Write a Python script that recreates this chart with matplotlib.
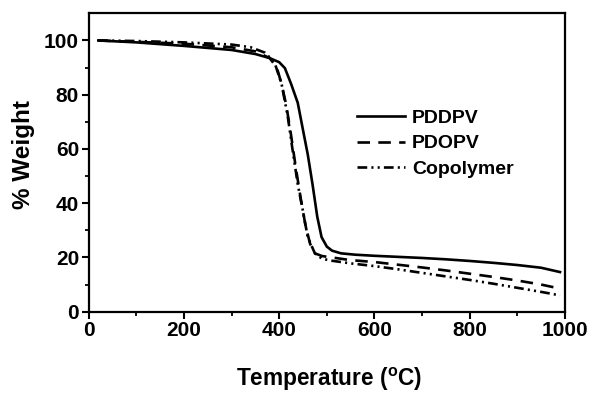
import matplotlib
matplotlib.use("Agg")
import matplotlib.pyplot as plt

plt.rcParams['font.family'] = ['Liberation Sans', 'DejaVu Sans']
plt.rcParams['font.weight'] = 'bold'
plt.rcParams['mathtext.fontset'] = 'custom'
plt.rcParams['mathtext.rm'] = 'Liberation Sans:bold'
plt.rcParams['mathtext.it'] = 'Liberation Sans:bold'
plt.rcParams['mathtext.bf'] = 'Liberation Sans:bold'
plt.rcParams['lines.scale_dashes'] = False

# TGA curves: temperature (°C) and residual weight (%)
pddpv_t = [20, 100, 200, 300, 350, 380, 400, 412, 425, 439, 450, 460, 470, 480,
           489, 500, 511, 530, 560, 600, 650, 700, 750, 800, 850, 900, 950, 990]
pddpv_w = [100, 99.3, 98.0, 96.5, 95.0, 93.5, 92.0, 89.8, 84.0, 77.0, 67.0, 58.0,
           47.0, 35.0, 27.5, 24.0, 22.5, 21.5, 21.0, 20.6, 20.2, 19.8, 19.3, 18.7,
           18.0, 17.2, 16.2, 14.6]

pdopv_t = [20, 100, 200, 300, 350, 380, 395, 405, 415, 425, 435, 445, 455, 465,
           475, 490, 510, 550, 600, 650, 700, 750, 800, 850, 900, 950, 990]
pdopv_w = [100, 99.5, 98.8, 97.5, 96.0, 93.5, 90.0, 84.0, 76.0, 65.0, 53.0, 42.0,
           32.0, 25.0, 21.5, 20.5, 20.0, 19.0, 18.3, 17.3, 16.3, 15.2, 14.0, 12.8,
           11.5, 10.0, 8.5]

copoly_t = [20, 100, 200, 300, 340, 370, 390, 405, 418, 427, 439, 450, 460, 475,
            490, 510, 550, 600, 650, 700, 750, 800, 850, 900, 950, 990]
copoly_w = [100, 99.8, 99.3, 98.5, 97.5, 95.5, 92.0, 84.0, 72.0, 61.0, 47.0, 37.0,
            27.5, 21.5, 19.5, 18.8, 17.8, 16.8, 15.6, 14.3, 13.0, 11.7, 10.3, 8.8,
            7.3, 6.0]

x_ticks = [0, 200, 400, 600, 800, 1000]
y_ticks = [0, 20, 40, 60, 80, 100]

fig = plt.figure(figsize=(5.92, 3.93), dpi=100)
ax = fig.add_axes([0.150, 0.207, 0.804, 0.759])

lw = 1.9
ax.plot(pddpv_t, pddpv_w, color='black', lw=lw, label='PDDPV')
ax.plot(pdopv_t, pdopv_w, color='black', lw=lw, dashes=(9, 6), label='PDOPV')
ax.plot(copoly_t, copoly_w, color='black', lw=lw,
        dashes=(7, 3, 1.5, 3, 1.5, 3), label='Copolymer')

ax.set_xlim(0, 1000)
ax.set_ylim(0, 110)
ax.set_xticks(x_ticks)
ax.set_yticks(y_ticks)
ax.set_xticks(range(100, 1000, 200), minor=True)
ax.set_yticks(range(10, 110, 20), minor=True)

for s in ax.spines.values():
    s.set_linewidth(1.6)
ax.tick_params(which='major', direction='out', length=5, width=1.5,
               labelsize=15, pad=2)
ax.tick_params(which='minor', direction='out', length=3, width=1.3)
for lab in ax.get_xticklabels() + ax.get_yticklabels():
    lab.set_fontweight('bold')

ax.set_xlabel(r'Temperature ($^{\mathrm{o}}$C)', fontsize=16.3, fontweight='bold')
ax.set_ylabel('% Weight', fontsize=17.5, fontweight='bold')
ax.xaxis.set_label_coords(0.505, -0.183)
ax.yaxis.set_label_coords(-0.113, 0.528)

leg = ax.legend(loc='upper left', bbox_to_anchor=(0.563, 0.678), frameon=False,
                fontsize=14, handlelength=2.5, handletextpad=0.35,
                labelspacing=0.4, borderaxespad=0, borderpad=0)
for t in leg.get_texts():
    t.set_fontweight('bold')

fig.savefig('out.png', dpi=100)
